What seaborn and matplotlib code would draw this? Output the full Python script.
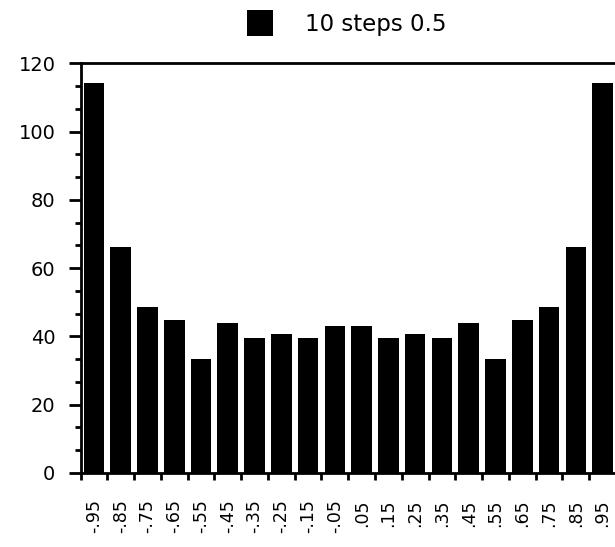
import numpy as np
import pandas as pd
import matplotlib
matplotlib.use("Agg")
import matplotlib.pyplot as plt
from matplotlib.ticker import AutoMinorLocator
import seaborn as sns

# ---- data ----
bin_labels = ["-.95", "-.85", "-.75", "-.65", "-.55", "-.45", "-.35", "-.25", "-.15", "-.05",
              ".05", ".15", ".25", ".35", ".45", ".55", ".65", ".75", ".85", ".95"]
counts = [114.3, 66.1, 48.7, 44.7, 33.3, 44.0, 39.5, 40.6, 39.5, 43.2,
          43.2, 39.5, 40.6, 39.5, 44.0, 33.3, 44.7, 48.7, 66.1, 114.3]
series_name = "10 steps 0.5"
y_ticks = [0, 20, 40, 60, 80, 100, 120]

df = pd.DataFrame({"bin": bin_labels, "count": counts})

sns.set_style("white")
plt.rcParams["font.family"] = ["DejaVu Sans"]
plt.rcParams["text.color"] = "black"
plt.rcParams["xtick.color"] = "black"
plt.rcParams["ytick.color"] = "black"

W, H = 615, 547
fig = plt.figure(figsize=(W / 100, H / 100), dpi=100)
ax = fig.add_axes([80.5 / W, 74 / H, (616 - 80.5) / W, (473 - 63.3) / H])

sns.barplot(data=df, x="bin", y="count", order=bin_labels, color="black",
            saturation=1, width=0.77, linewidth=0, ax=ax, label=series_name)

ax.set_xlim(-0.5, len(bin_labels) - 0.5)
ax.set_ylim(0, 120)
ax.set_xlabel("")
ax.set_ylabel("")

for side in ["left", "top", "bottom"]:
    ax.spines[side].set_visible(True)
    ax.spines[side].set_linewidth(2)
    ax.spines[side].set_color("black")
ax.spines["right"].set_visible(False)

ax.set_xticks(range(len(bin_labels)))
ax.set_xticklabels(bin_labels, rotation=90, fontsize=12.5)
ax.set_xticks(np.arange(-0.5, len(bin_labels), 1), minor=True)
ax.tick_params(axis="x", which="major", length=0, pad=19, labelcolor="black")
ax.tick_params(axis="x", which="minor", bottom=True, length=5, width=2, direction="out", color="black")

ax.set_yticks(y_ticks)
ax.yaxis.set_minor_locator(AutoMinorLocator(3))
ax.tick_params(axis="y", which="major", left=True, length=8.6, width=2, pad=9.4,
               labelsize=14, direction="out", colors="black")
ax.tick_params(axis="y", which="minor", left=True, length=4.3, width=2, direction="out", color="black")

handles, labels = ax.get_legend_handles_labels()
if ax.get_legend() is not None:
    ax.get_legend().remove()
fig.legend(handles, labels, loc="center", bbox_to_anchor=(0.5634, 0.958), frameon=False,
           fontsize=16.5, handlelength=1.15, handleheight=1.4, handletextpad=1.4,
           borderpad=0, borderaxespad=0, labelcolor="black")

fig.savefig("out.png", dpi=100)
